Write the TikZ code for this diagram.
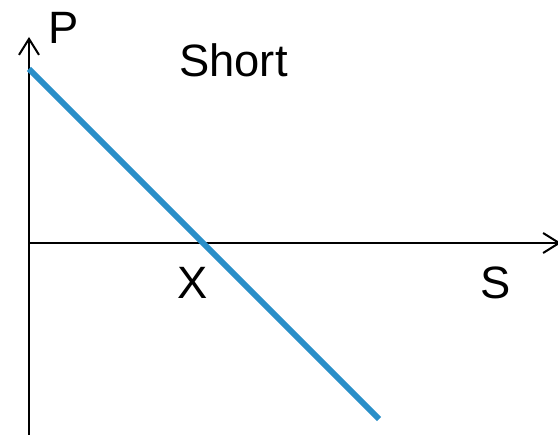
\documentclass[tikz,border=0pt]{standalone}
\usepackage{fontspec}
\setmainfont{Liberation Sans}
\usetikzlibrary{arrows.meta}
\definecolor{lineblue}{RGB}{41,143,200}
\begin{document}
\begin{tikzpicture}[x=0.75pt, y=-0.75pt, line width=1.5pt,
  font=\fontsize{34}{40}\selectfont,
  axis/.style={-{Straight Barb[length=12pt,width=15pt]}},
  lbl/.style={anchor=base, inner sep=0pt}]
  \useasboundingbox (0,0) rectangle (558,435);
  % axes
  \coordinate (pbot) at (29,437);
  \coordinate (ptop) at (29,37);
  \coordinate (sleft) at (29,243);
  \coordinate (sright) at (561,243);
  \draw[axis] (pbot) -- (ptop);
  \draw[axis] (sleft) -- (sright);
  % short line
  \coordinate (a) at (29,69);
  \coordinate (b) at (379,419);
  \draw[lineblue, line width=4.5pt] (a) -- (b);
  \node[lbl] (plabel) at (63.5,44) {P};
  \node[lbl] (short) at (233.5,77) {Short};
  \node[lbl] (xlabel) at (193,299) {X};
  \node[lbl] (slabel) at (496,299) {S};
\end{tikzpicture}
\end{document}
